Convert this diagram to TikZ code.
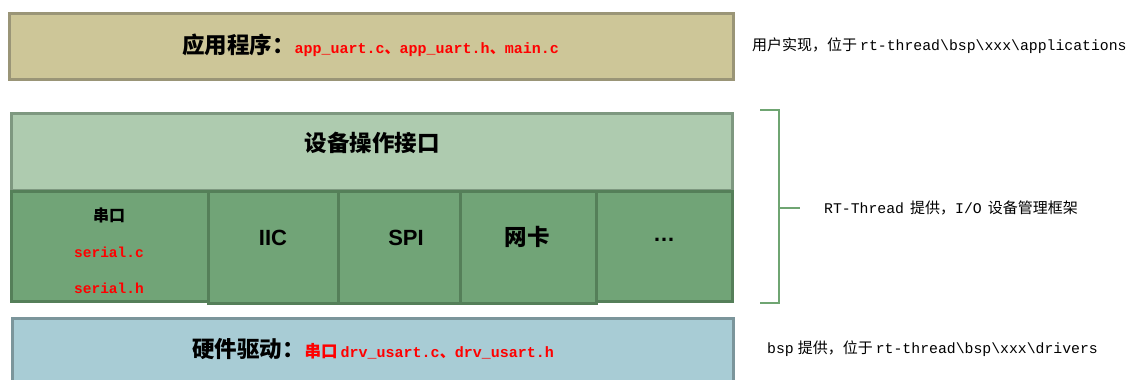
\documentclass[tikz,border=0pt]{standalone}
\usepackage{fontspec}
\setmainfont{Liberation Serif}
\newfontfamily\cjk{Noto Sans CJK SC}
\newfontfamily\mono{Liberation Mono}
\newfontfamily\arial{Liberation Sans}
\definecolor{appfill}{HTML}{CDC698}
\definecolor{appdraw}{HTML}{9A9577}
\definecolor{hdrfill}{HTML}{AECBAF}
\definecolor{hdrdraw}{HTML}{7E9880}
\definecolor{cellfill}{HTML}{71A477}
\definecolor{celldraw}{HTML}{557F59}
\definecolor{drvfill}{HTML}{A8CCD5}
\definecolor{drvdraw}{HTML}{7B959B}
\definecolor{brk}{HTML}{6FA572}
\definecolor{redtxt}{HTML}{FF0000}
\newcommand{\mt}{\mono\fontsize{14.8}{18}\selectfont}
\begin{document}
\begin{tikzpicture}[x=1pt,y=-1pt,
  layer/.style={rectangle,line width=3pt,inner sep=0pt,outer sep=0pt},
  cellbox/.style={layer,fill=cellfill,draw=celldraw},
  title/.style={inner sep=0pt,font=\cjk\bfseries\fontsize{22.5}{26}\selectfont},
  redmono/.style={inner sep=0pt,text=redtxt,font=\mono\bfseries\fontsize{14.5}{17}\selectfont},
  bigsans/.style={inner sep=0pt,font=\arial\bfseries\fontsize{22}{26}\selectfont},
  note/.style={inner sep=0pt,anchor=west,font=\cjk\fontsize{15}{18}\selectfont},
  bracket/.style={draw=brk,line width=2pt}]
\useasboundingbox (0,0) rectangle (1133,380);
% application layer
\node[layer,fill=appfill,draw=appdraw,minimum width=724pt,minimum height=66pt] (app) at (371.5,46.5) {};
\node[title] (apptxt) at (370.5,45) {应用程序：{\mono\bfseries\fontsize{15}{18}\selectfont\color{redtxt}app\_uart.c{\cjk 、}app\_uart.h{\cjk 、}main.c}};
% device interface
\node[layer,fill=hdrfill,draw=hdrdraw,minimum width=721pt,minimum height=77pt] (hdr) at (372,152) {};
\node[title] (hdrtxt) at (372,143) {设备操作接口};
% cells
\node[cellbox,minimum width=196.5pt,minimum height=110pt] (serial) at (109.75,246.5) {};
\node[cellbox,minimum width=130pt,minimum height=112pt] (iic) at (273,247.5) {};
\node[cellbox,minimum width=122pt,minimum height=112pt] (spi) at (399,247.5) {};
\node[cellbox,minimum width=136pt,minimum height=112pt] (net) at (528,247.5) {};
\node[cellbox,minimum width=136.5pt,minimum height=110pt] (more) at (664.25,246.5) {};
\node[inner sep=0pt,font=\cjk\bfseries\fontsize{16}{19}\selectfont] (serialtxt) at (109,215) {串口};
\node[redmono] (serialc) at (109,252) {serial.c};
\node[redmono] (serialh) at (109,288) {serial.h};
\node[bigsans] (iictxt) at (273,238) {IIC};
\node[bigsans] (spitxt) at (406,238) {SPI};
\node[title] (nettxt) at (527,237) {网卡};
\node[bigsans] (moretxt) at (664,240) {…};
% driver layer
\node[layer,fill=drvfill,draw=drvdraw,minimum width=721pt,minimum height=82pt] (drv) at (373,359.5) {};
\node[title] (drvtxt) at (373,349) {硬件驱动：{\cjk\bfseries\fontsize{16.5}{19}\selectfont\color{redtxt}串口\hspace{3pt}{\mono\bfseries\fontsize{15}{18}\selectfont drv\_usart.c{\cjk 、}drv\_usart.h}}};
% right-hand notes
\node[note] (note1) at (752,46) {用户实现，位于\hspace{3pt}{\mt rt-thread\textbackslash bsp\textbackslash xxx\textbackslash applications}};
\coordinate (btop) at (760,110);
\coordinate (bbot) at (760,303);
\coordinate (bmid) at (779,208);
\coordinate (btick) at (800,208);
\draw[bracket] (btop) -- (779,110) -- (779,303) -- (bbot);
\draw[bracket] (bmid) -- (btick);
\node[note] (note2) at (824,208) {{\mt RT-Thread}\hspace{6pt}提供，{\mt I/O}\hspace{6pt}设备管理框架};
\node[note] (note3) at (767,349) {{\mt bsp}\hspace{4pt}提供，位于\hspace{3pt}{\mt rt-thread\textbackslash bsp\textbackslash xxx\textbackslash drivers}};
\end{tikzpicture}
\end{document}
